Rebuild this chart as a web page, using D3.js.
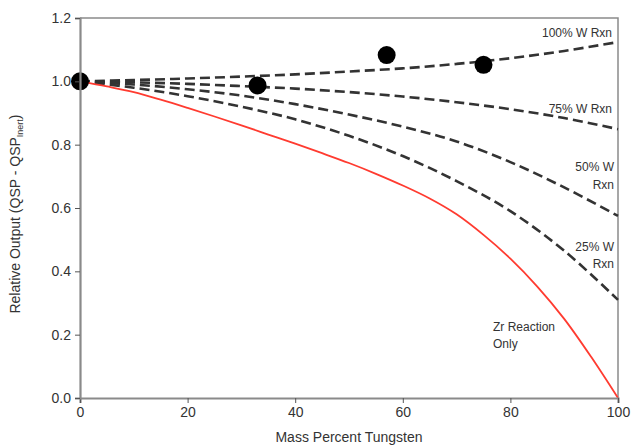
<!DOCTYPE html>
<html><head><meta charset="utf-8">
<script src="https://cdn.jsdelivr.net/npm/d3@7"></script>
<style>body{margin:0;background:#fff}svg{display:block}</style>
</head><body>
<svg id="c" width="634" height="446"></svg>
<script>
const massPct = [0,10,20,30,40,50,60,70,80,90,100];
const w100 = [1.0,1.004,1.009,1.015,1.022,1.031,1.041,1.055,1.073,1.096,1.124];
const w75  = [1.0,0.997,0.992,0.985,0.977,0.966,0.952,0.934,0.912,0.884,0.849];
const w50  = [1.0,0.99,0.975,0.955,0.928,0.895,0.857,0.81,0.745,0.665,0.575];
const w25  = [1.0,0.98,0.953,0.92,0.88,0.828,0.764,0.685,0.59,0.465,0.31];
const zrPct = [0,5,10,15,20,25,30,35,40,45,50,55,60,65,70,75,80,85,90,95,100];
const zrOnly = [1.0,0.984,0.966,0.942,0.916,0.889,0.861,0.832,0.803,0.773,0.742,0.708,0.671,0.63,0.58,0.515,0.44,0.352,0.25,0.13,0.0];
const expX = [0,33,57,75];
const expY = [1.0,0.987,1.083,1.052];
const xTicks = [0,20,40,60,80,100];
const yTicks = [0,0.2,0.4,0.6,0.8,1.0,1.2];

const svg = d3.select('#c');
const L=80, R=618, T=18, B=398;
const x = d3.scaleLinear().domain([0,100]).range([L,R]);
const y = d3.scaleLinear().domain([0,1.2]).range([B,T]);
const font = 'Arial, "Liberation Sans", sans-serif';
const axisCol = '#8a8a8a';

// frame (top & right)
svg.append('path').attr('d',`M${L},${T}H${R}V${B}`).attr('fill','none').attr('stroke',axisCol).attr('stroke-width',1.5);

const mkLine = xs => d3.line().x((d,i)=>x(xs[i])).y(d=>y(d)).curve(d3.curveCatmullRom.alpha(0.5));
[w100,w75,w50,w25].forEach(s=>{
  svg.append('path').attr('d',mkLine(massPct)(s)).attr('fill','none').attr('stroke','#333')
    .attr('stroke-width',2.6).attr('stroke-dasharray','10,5');
});
svg.append('path').attr('d',mkLine(zrPct)(zrOnly)).attr('fill','none').attr('stroke','#ff3b30').attr('stroke-width',1.8);

svg.selectAll('circle.p').data(expX).enter().append('circle')
  .attr('cx',d=>x(d)).attr('cy',(d,i)=>y(expY[i])).attr('r',9).attr('fill','#000');

// axes
const gx = svg.append('g').attr('transform',`translate(0,${B})`)
  .call(d3.axisBottom(x).tickValues(xTicks).tickSize(5).tickPadding(4));
const gy = svg.append('g').attr('transform',`translate(${L},0)`)
  .call(d3.axisLeft(y).tickValues(yTicks).tickSize(5).tickPadding(4).tickFormat(d3.format('.1f')));
[gx,gy].forEach(g=>{
  g.select('.domain').attr('stroke',axisCol).attr('stroke-width',2.2);
  g.selectAll('.tick line').attr('stroke','#555');
  g.selectAll('text').attr('font-family',font).attr('font-size',14).attr('fill','#333');
});

// axis titles
svg.append('text').attr('x',(L+R)/2).attr('y',442).attr('text-anchor','middle')
  .attr('font-family',font).attr('font-size',14).attr('fill','#333').text('Mass Percent Tungsten');
const yt = svg.append('text').attr('transform','translate(20,214) rotate(-90)').attr('text-anchor','middle')
  .attr('font-family',font).attr('font-size',14).attr('fill','#333');
yt.append('tspan').text('Relative Output (QSP - QSP');
yt.append('tspan').attr('font-size',9).attr('dy',3).text('Inert');
yt.append('tspan').attr('dy',-3).text(')');

// curve labels
const lab = (t,xx,yy,anchor)=>svg.append('text').attr('x',xx).attr('y',yy).attr('text-anchor',anchor)
  .attr('font-family',font).attr('font-size',12).attr('fill','#333').text(t);
lab('100% W Rxn',612,37,'end');
lab('75% W Rxn',612,113,'end');
lab('50% W',614,171,'end');
lab('Rxn',614,189,'end');
lab('25% W',614,251,'end');
lab('Rxn',614,268,'end');
lab('Zr Reaction',493,331,'start');
lab('Only',493,348,'start');
</script>
</body></html>
